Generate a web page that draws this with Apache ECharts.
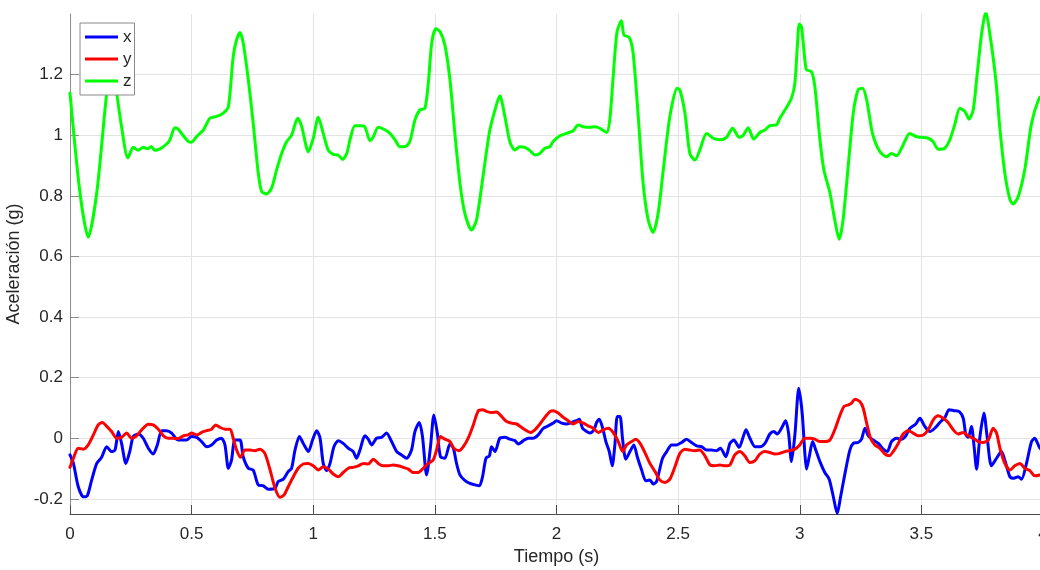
<!DOCTYPE html>
<html>
<head>
<meta charset="utf-8">
<script src="https://cdn.jsdelivr.net/npm/echarts@6/dist/echarts.min.js"></script>
<style>html,body{margin:0;padding:0;background:#fff}#c{width:1040px;height:570px}</style>
</head>
<body>
<div id="c"></div>
<script>
const yTicks = [-0.2, 0, 0.2, 0.4, 0.6, 0.8, 1, 1.2];

const zTime = [0,0.041,0.075,0.11,0.151,0.168,0.178,0.192,0.212,0.238,0.26,0.28,0.301,0.321,0.334,0.348,0.37,0.397,0.411,0.431,0.445,0.466,0.487,0.5,0.52,0.548,0.575,0.603,0.63,0.651,0.671,0.685,0.699,0.712,0.733,0.753,0.774,0.788,0.808,0.829,0.849,0.87,0.891,0.911,0.936,0.952,0.98,1.0,1.021,1.041,1.062,1.082,1.103,1.121,1.138,1.151,1.171,1.192,1.212,1.233,1.247,1.267,1.294,1.315,1.336,1.356,1.377,1.397,1.418,1.438,1.459,1.473,1.487,1.504,1.521,1.541,1.562,1.582,1.603,1.623,1.651,1.671,1.692,1.713,1.726,1.747,1.767,1.788,1.808,1.829,1.849,1.87,1.891,1.911,1.932,1.952,1.973,1.986,2.014,2.041,2.069,2.089,2.11,2.137,2.158,2.178,2.206,2.219,2.233,2.249,2.267,2.277,2.299,2.315,2.336,2.356,2.377,2.397,2.418,2.439,2.466,2.496,2.507,2.528,2.548,2.569,2.589,2.617,2.644,2.672,2.699,2.724,2.751,2.768,2.788,2.811,2.836,2.857,2.877,2.904,2.918,2.939,2.966,2.98,2.99,2.998,3.007,3.021,3.028,3.048,3.062,3.083,3.099,3.124,3.144,3.162,3.178,3.199,3.22,3.24,3.258,3.275,3.299,3.329,3.357,3.377,3.398,3.425,3.452,3.48,3.5,3.528,3.548,3.569,3.596,3.617,3.637,3.658,3.679,3.696,3.713,3.727,3.748,3.765,3.781,3.806,3.822,3.843,3.864,3.877,3.898,3.925,3.953,3.984,4.0];
const zVals = [1.139,0.81,0.663,0.81,1.14,1.22,1.23,1.14,1.028,0.925,0.96,0.95,0.96,0.955,0.963,0.95,0.955,0.971,0.985,1.025,1.02,0.998,0.979,0.977,0.995,1.017,1.056,1.062,1.073,1.094,1.26,1.315,1.339,1.304,1.183,1.04,0.875,0.814,0.806,0.826,0.885,0.94,0.979,1.0,1.056,1.03,0.945,0.99,1.059,1.006,0.95,0.937,0.934,0.92,0.94,0.985,1.031,1.031,1.028,0.982,0.995,1.026,1.018,1.006,0.985,0.962,0.962,0.979,1.05,1.083,1.089,1.172,1.304,1.351,1.342,1.298,1.183,1.007,0.842,0.743,0.687,0.72,0.83,0.951,1.017,1.083,1.13,1.061,0.979,0.951,0.962,0.96,0.949,0.935,0.94,0.957,0.962,0.979,0.998,1.006,1.015,1.034,1.028,1.026,1.028,1.023,1.009,1.05,1.193,1.342,1.378,1.331,1.323,1.271,1.062,0.842,0.72,0.679,0.743,0.886,1.062,1.155,1.15,1.073,0.94,0.918,0.951,1.006,0.99,0.985,0.993,1.023,0.993,1.0,1.025,0.987,1.009,1.017,1.032,1.034,1.056,1.083,1.122,1.172,1.293,1.367,1.358,1.249,1.216,1.21,1.161,0.985,0.886,0.81,0.72,0.657,0.72,0.896,1.073,1.15,1.155,1.117,1.006,0.946,0.929,0.94,0.932,0.968,1.006,0.995,0.993,0.99,0.979,0.954,0.957,0.985,1.034,1.089,1.078,1.053,1.083,1.183,1.337,1.408,1.337,1.183,1.028,0.875,0.788,0.773,0.797,0.886,1.04,1.122,1.13];

const xTime = [0,0.014,0.034,0.055,0.071,0.089,0.11,0.13,0.151,0.171,0.185,0.199,0.212,0.23,0.247,0.26,0.281,0.301,0.322,0.342,0.359,0.377,0.397,0.418,0.438,0.459,0.479,0.5,0.521,0.541,0.562,0.582,0.603,0.623,0.637,0.651,0.664,0.678,0.699,0.712,0.733,0.753,0.774,0.795,0.815,0.843,0.856,0.877,0.897,0.911,0.925,0.943,0.959,0.98,0.997,1.014,1.028,1.041,1.055,1.069,1.085,1.103,1.123,1.144,1.164,1.178,1.192,1.212,1.226,1.24,1.26,1.281,1.301,1.322,1.343,1.363,1.384,1.404,1.418,1.436,1.449,1.466,1.482,1.496,1.51,1.523,1.541,1.562,1.576,1.589,1.603,1.624,1.644,1.665,1.683,1.696,1.71,1.724,1.733,1.747,1.767,1.788,1.809,1.829,1.843,1.864,1.884,1.904,1.925,1.946,1.966,1.987,2.0,2.021,2.041,2.062,2.082,2.094,2.107,2.124,2.137,2.154,2.165,2.176,2.19,2.203,2.217,2.229,2.24,2.25,2.261,2.272,2.285,2.302,2.318,2.332,2.35,2.367,2.384,2.398,2.411,2.422,2.436,2.453,2.473,2.494,2.514,2.535,2.555,2.576,2.596,2.617,2.637,2.658,2.674,2.696,2.713,2.729,2.751,2.768,2.779,2.795,2.816,2.836,2.857,2.877,2.894,2.907,2.925,2.942,2.954,2.966,2.98,2.996,3.01,3.021,3.028,3.039,3.053,3.066,3.083,3.103,3.121,3.138,3.154,3.168,3.186,3.206,3.22,3.24,3.254,3.268,3.282,3.302,3.323,3.343,3.36,3.377,3.398,3.418,3.436,3.453,3.477,3.494,3.514,3.535,3.555,3.576,3.597,3.614,3.634,3.656,3.672,3.683,3.693,3.706,3.716,3.727,3.74,3.757,3.771,3.788,3.809,3.829,3.843,3.864,3.88,3.898,3.912,3.932,3.953,3.966,3.987,4.0];
const xVals = [-0.055,-0.083,-0.16,-0.193,-0.19,-0.138,-0.083,-0.063,-0.028,-0.044,-0.039,0.022,-0.017,-0.083,-0.039,0.006,0.014,0.0,-0.033,-0.052,-0.022,0.025,0.025,0.017,-0.003,-0.006,-0.006,0.006,0.003,-0.011,-0.028,-0.022,-0.006,0.0,-0.022,-0.099,-0.072,-0.006,-0.006,-0.061,-0.099,-0.105,-0.154,-0.157,-0.168,-0.165,-0.143,-0.135,-0.11,-0.099,-0.039,0.006,-0.017,-0.044,-0.006,0.025,0.0,-0.083,-0.107,-0.083,-0.028,-0.008,-0.017,-0.033,-0.044,-0.066,-0.039,0.008,-0.003,-0.022,0.0,0.003,0.017,-0.011,-0.044,-0.055,-0.066,-0.039,0.022,0.052,0.006,-0.121,-0.028,0.077,0.017,-0.061,-0.066,-0.019,-0.033,-0.083,-0.121,-0.14,-0.149,-0.154,-0.157,-0.127,-0.066,-0.058,-0.028,-0.044,0.0,0.003,-0.003,-0.008,-0.019,-0.008,0.0,0.0,0.011,0.033,0.041,0.05,0.058,0.05,0.047,0.052,0.058,0.063,0.033,0.022,0.017,0.028,0.052,0.063,0.033,-0.011,-0.044,-0.091,-0.022,0.072,0.072,-0.006,-0.069,-0.044,-0.022,-0.061,-0.105,-0.14,-0.138,-0.151,-0.143,-0.11,-0.066,-0.044,-0.022,-0.022,-0.014,-0.003,-0.014,-0.025,-0.028,-0.039,-0.039,-0.041,-0.033,-0.061,-0.017,-0.006,-0.03,0.006,0.028,0.0,-0.028,-0.028,-0.017,0.014,0.022,0.014,0.033,0.058,0.017,-0.077,0.011,0.165,0.083,-0.05,-0.102,-0.061,-0.011,-0.039,-0.077,-0.113,-0.135,-0.193,-0.248,-0.193,-0.116,-0.039,-0.017,-0.014,-0.003,0.033,0.008,-0.006,-0.017,-0.036,-0.044,-0.011,0.0,-0.003,0.008,0.033,0.047,0.066,0.039,0.022,0.033,0.052,0.069,0.094,0.091,0.088,0.066,0.011,0.003,0.039,-0.022,-0.102,0.0,0.083,0.0,-0.091,-0.066,-0.044,-0.072,-0.127,-0.132,-0.127,-0.135,-0.083,-0.011,0.0,-0.033,-0.04];

const yTime = [0,0.014,0.034,0.055,0.075,0.096,0.116,0.133,0.151,0.171,0.192,0.212,0.233,0.253,0.274,0.295,0.322,0.342,0.363,0.384,0.404,0.425,0.445,0.466,0.486,0.5,0.521,0.541,0.562,0.582,0.599,0.616,0.637,0.658,0.671,0.685,0.701,0.719,0.74,0.76,0.781,0.801,0.822,0.843,0.863,0.88,0.897,0.918,0.938,0.959,0.98,1.0,1.021,1.041,1.062,1.082,1.103,1.123,1.144,1.164,1.185,1.206,1.226,1.247,1.267,1.288,1.308,1.329,1.349,1.37,1.391,1.411,1.432,1.452,1.473,1.493,1.507,1.523,1.541,1.562,1.578,1.6,1.617,1.637,1.658,1.678,1.696,1.715,1.733,1.754,1.774,1.795,1.815,1.836,1.856,1.877,1.893,1.911,1.932,1.952,1.973,1.987,2.007,2.028,2.048,2.069,2.089,2.11,2.13,2.151,2.172,2.192,2.213,2.233,2.254,2.272,2.288,2.309,2.326,2.343,2.364,2.384,2.405,2.425,2.446,2.466,2.487,2.507,2.528,2.548,2.569,2.589,2.61,2.631,2.651,2.672,2.692,2.713,2.733,2.754,2.774,2.795,2.816,2.836,2.857,2.877,2.898,2.918,2.939,2.959,2.98,3.0,3.021,3.042,3.062,3.083,3.103,3.124,3.144,3.165,3.182,3.2,3.213,3.227,3.247,3.261,3.275,3.291,3.309,3.329,3.35,3.368,3.384,3.405,3.425,3.446,3.466,3.487,3.508,3.528,3.549,3.569,3.59,3.61,3.631,3.651,3.672,3.693,3.713,3.734,3.754,3.775,3.795,3.809,3.823,3.843,3.864,3.884,3.905,3.925,3.946,3.966,3.987,4.0];
const yVals = [-0.096,-0.066,-0.033,-0.036,-0.022,0.011,0.044,0.052,0.039,0.022,0.0,0.003,0.017,0.0,0.008,0.028,0.046,0.044,0.03,0.008,0.0,0.0,-0.001,0.008,0.011,0.017,0.011,0.019,0.025,0.03,0.044,0.036,0.03,0.03,0.0,-0.039,-0.063,-0.039,-0.039,-0.041,-0.036,-0.05,-0.103,-0.165,-0.195,-0.187,-0.16,-0.127,-0.099,-0.085,-0.083,-0.091,-0.105,-0.094,-0.102,-0.118,-0.127,-0.113,-0.099,-0.096,-0.091,-0.083,-0.085,-0.069,-0.083,-0.091,-0.091,-0.088,-0.091,-0.096,-0.102,-0.113,-0.113,-0.099,-0.083,-0.072,-0.039,0.006,-0.003,-0.011,-0.033,-0.041,-0.028,0.0,0.044,0.09,0.094,0.088,0.085,0.087,0.072,0.055,0.05,0.047,0.036,0.025,0.019,0.028,0.047,0.069,0.088,0.091,0.083,0.069,0.058,0.047,0.055,0.05,0.041,0.033,0.019,0.028,0.033,0.019,-0.011,-0.044,-0.022,-0.011,-0.003,-0.016,-0.048,-0.083,-0.11,-0.138,-0.146,-0.135,-0.094,-0.05,-0.036,-0.039,-0.041,-0.039,-0.058,-0.088,-0.091,-0.088,-0.091,-0.088,-0.055,-0.044,-0.058,-0.08,-0.074,-0.052,-0.044,-0.047,-0.052,-0.05,-0.044,-0.041,-0.036,-0.022,0.0,0.0,-0.003,-0.011,-0.011,-0.006,0.028,0.075,0.105,0.11,0.116,0.129,0.121,0.099,0.05,0.0,-0.022,-0.033,-0.052,-0.058,-0.044,-0.017,0.014,0.025,0.017,0.008,0.011,0.028,0.061,0.074,0.066,0.052,0.028,0.014,0.019,0.008,0.0,-0.011,-0.014,-0.006,0.033,0.017,-0.033,-0.083,-0.105,-0.091,-0.083,-0.099,-0.107,-0.124,-0.121,-0.115];

const zip = (t, v) => t.map((ti, i) => [ti, v[i]]);
const FONT = '"Liberation Sans", Arial, Helvetica, sans-serif';

function lineSeries(name, data, color) {
  return {
    name: name, type: 'line', data: data, showSymbol: false, symbol: 'none',
    smooth: 0.25, color: color,
    lineStyle: {width: 3, color: color, join: 'round', cap: 'round'}
  };
}

const chart = echarts.init(document.getElementById('c'), null, {renderer: 'canvas'});
chart.setOption({
  animation: false,
  backgroundColor: '#ffffff',
  grid: {left: 70, right: -3, top: 14, bottom: 56, containLabel: false, outerBoundsMode: 'none'},
  legend: {
    left: 80, top: 23, orient: 'vertical',
    backgroundColor: '#ffffff', borderColor: '#8a8a8a', borderWidth: 1,
    padding: [3, 3, 3, 5], itemGap: 0, itemWidth: 33, itemHeight: 3, icon: 'rect',
    textStyle: {fontFamily: FONT, fontSize: 17, lineHeight: 22, color: '#262626'},
    data: ['x', 'y', 'z']
  },
  xAxis: {
    type: 'value', min: 0, max: 4, interval: 0.5,
    name: 'Tiempo (s)', nameLocation: 'middle', nameGap: 33,
    nameTextStyle: {fontFamily: FONT, fontSize: 18, color: '#262626'},
    axisLine: {show: true, onZero: false, lineStyle: {color: '#4a4a4a', width: 1}},
    axisTick: {show: true, inside: true, length: 9, lineStyle: {color: '#4a4a4a'}},
    axisLabel: {fontFamily: FONT, fontSize: 17, color: '#262626', margin: 12},
    splitLine: {show: true, lineStyle: {color: '#e3e3e3', width: 1}}
  },
  yAxis: {
    type: 'value', min: -0.25, max: 1.4,
    name: 'Aceleración (g)', nameLocation: 'middle', nameGap: 40,
    nameTextStyle: {fontFamily: FONT, fontSize: 18, color: '#262626'},
    axisLine: {show: true, onZero: false, lineStyle: {color: '#8c8c8c', width: 1}},
    axisTick: {show: true, inside: true, length: 9, lineStyle: {color: '#8c8c8c'}, customValues: yTicks},
    axisLabel: {fontFamily: FONT, fontSize: 17, color: '#262626', margin: 7, customValues: yTicks},
    splitLine: {show: true, lineStyle: {color: '#e3e3e3', width: 1}}
  },
  series: [
    lineSeries('x', zip(xTime, xVals), '#0000ff'),
    lineSeries('y', zip(yTime, yVals), '#ff0000'),
    lineSeries('z', zip(zTime, zVals), '#00ff00')
  ]
});
</script>
</body>
</html>
